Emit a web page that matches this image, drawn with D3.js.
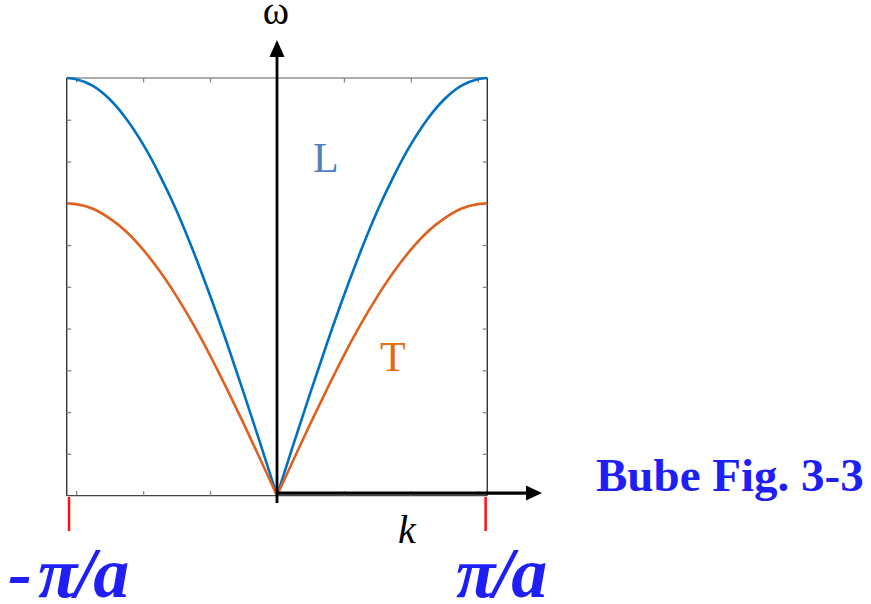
<!DOCTYPE html>
<html>
<head>
<meta charset="utf-8">
<script src="https://cdn.jsdelivr.net/npm/d3@7"></script>
<style>
  html, body { margin: 0; padding: 0; background: #fff; }
  svg { display: block; }
</style>
</head>
<body>
<svg id="chart" width="871" height="604"></svg>
<script>
// Wave vector samples across the first Brillouin zone (units of 1/a)
const kValues = [-3.14, -3, -2.75, -2.5, -2.25, -2, -1.75, -1.5, -1.25, -1, -0.75, -0.5, -0.25,
                 0, 0.25, 0.5, 0.75, 1, 1.25, 1.5, 1.75, 2, 2.25, 2.5, 2.75, 3, 3.14];
// Longitudinal branch frequency
const omegaL = [10.0, 9.97, 9.81, 9.49, 9.02, 8.41, 7.67, 6.82, 5.85, 4.79, 3.66, 2.47, 1.25,
                0, 1.25, 2.47, 3.66, 4.79, 5.85, 6.82, 7.67, 8.41, 9.02, 9.49, 9.81, 9.97, 10.0];
// Transverse branch frequency
const omegaT = [7.0, 6.98, 6.87, 6.64, 6.32, 5.89, 5.37, 4.77, 4.10, 3.36, 2.56, 1.73, 0.87,
                0, 0.87, 1.73, 2.56, 3.36, 4.10, 4.77, 5.37, 5.89, 6.32, 6.64, 6.87, 6.98, 7.0];
const xTicks = [-3, -2, -1, 0, 1, 2, 3];
const yTicks = [1, 2, 3, 4, 5, 6, 7, 8, 9];
const branchNames = ["L", "T"];
const zoneLabel = "\u03C0/a";
const captionText = "Bube Fig. 3-3";

const svg = d3.select("#chart");

const x = d3.scaleLinear().domain([-Math.PI, Math.PI]).range([66.7, 487.3]);
const y = d3.scaleLinear().domain([0, 10]).range([495.6, 78]);

const serif = "'Liberation Serif', 'Times New Roman', serif";

// Plot frame
const frame = svg.append("g").attr("fill", "none");
frame.append("line").attr("x1", x.range()[0]).attr("x2", x.range()[1])
  .attr("y1", y(10)).attr("y2", y(10)).attr("stroke", "#5a5a5a").attr("stroke-width", 1.2);
frame.append("line").attr("x1", x.range()[0]).attr("x2", x.range()[1])
  .attr("y1", y(0)).attr("y2", y(0)).attr("stroke", "#444").attr("stroke-width", 1.2);
frame.append("line").attr("x1", x.range()[0]).attr("x2", x.range()[0])
  .attr("y1", y(10)).attr("y2", y(0)).attr("stroke", "#333").attr("stroke-width", 1.4);
frame.append("line").attr("x1", x.range()[1]).attr("x2", x.range()[1])
  .attr("y1", y(10)).attr("y2", y(0)).attr("stroke", "#333").attr("stroke-width", 1.4);

// Inward ticks on the frame via d3 axes
const tickLen = 4.5;
function styleAxis(g) {
  g.select(".domain").remove();
  g.selectAll(".tick line").attr("stroke", "#888").attr("stroke-width", 1.3);
  g.selectAll(".tick text").remove();
}
svg.append("g").attr("transform", `translate(0,${y(0)})`)
  .call(d3.axisTop(x).tickValues(xTicks).tickSize(tickLen)).call(styleAxis);
svg.append("g").attr("transform", `translate(0,${y(10)})`)
  .call(d3.axisBottom(x).tickValues(xTicks.filter(d => d !== 0)).tickSize(tickLen)).call(styleAxis);
svg.append("g").attr("transform", `translate(${x.range()[0]},0)`)
  .call(d3.axisRight(y).tickValues(yTicks).tickSize(tickLen)).call(styleAxis);
svg.append("g").attr("transform", `translate(${x.range()[1]},0)`)
  .call(d3.axisLeft(y).tickValues(yTicks).tickSize(tickLen)).call(styleAxis);

// Dispersion branches, each half drawn separately so the cusp at k = 0 stays sharp
const line = d3.line().x(d => x(d.k)).y(d => y(d.w)).curve(d3.curveMonotoneX);
function halves(vals) {
  const pts = kValues.map((k, i) => ({ k, w: vals[i] }));
  return [pts.filter(p => p.k <= 0), pts.filter(p => p.k >= 0)];
}
const branches = [
  { vals: omegaL, color: "#0070C0" },
  { vals: omegaT, color: "#E0601E" }
];
branches.forEach(b => {
  halves(b.vals).forEach(seg => {
    svg.append("path").datum(seg).attr("d", line)
      .attr("fill", "none").attr("stroke", b.color).attr("stroke-width", 2.6);
  });
});

// Coordinate axes with arrowheads
const x0 = x(0);
const yAxisLine = y(0) - 2.5;
svg.append("line").attr("x1", x0).attr("x2", x0).attr("y1", 503).attr("y2", 52)
  .attr("stroke", "#000").attr("stroke-width", 2.8);
svg.append("path")
  .attr("d", `M${x0},40 L${x0 - 7.5},57 L${x0 + 7.5},57 Z`).attr("fill", "#000");
svg.append("line").attr("x1", x0).attr("x2", 530).attr("y1", yAxisLine).attr("y2", yAxisLine)
  .attr("stroke", "#000").attr("stroke-width", 3.2);
svg.append("path")
  .attr("d", `M542,${yAxisLine} L526,${yAxisLine - 7.5} L526,${yAxisLine + 7.5} Z`).attr("fill", "#000");

// Zone boundary markers
[-Math.PI, Math.PI].forEach((k, i) => {
  const px = x(k) + (i === 0 ? 2.3 : -1.7);
  svg.append("line").attr("x1", px).attr("x2", px).attr("y1", 497).attr("y2", 531)
    .attr("stroke", "#FF1010").attr("stroke-width", 2.5);
});

// Axis labels
svg.append("text").attr("x", x0 - 1).attr("y", 24).attr("text-anchor", "middle")
  .attr("font-family", serif).attr("font-size", 40).attr("fill", "#000").text("\u03C9");
svg.append("text").attr("x", 398).attr("y", 543)
  .attr("font-family", serif).attr("font-style", "italic").attr("font-size", 40)
  .attr("fill", "#000").text("k");

// Branch labels
svg.append("text").attr("x", 313).attr("y", 171.5)
  .attr("font-family", serif).attr("font-size", 42).attr("fill", "#4F81BD").text(branchNames[0]);
svg.append("text").attr("x", 380).attr("y", 370.5)
  .attr("font-family", serif).attr("font-size", 42).attr("fill", "#E46C0A").text(branchNames[1]);

// Zone boundary labels
const zoneStyle = sel => sel
  .attr("font-family", serif).attr("font-style", "italic").attr("font-weight", "bold")
  .attr("font-size", 72).attr("letter-spacing", -2).attr("fill", "#1F1FF5");
const leftLabel = svg.append("text").attr("x", 8).attr("y", 597).call(zoneStyle);
leftLabel.append("tspan").text("-");
leftLabel.append("tspan").attr("dx", 8).text(zoneLabel);
svg.append("text").attr("x", 456).attr("y", 597).call(zoneStyle).text(zoneLabel);

// Caption
svg.append("text").attr("x", 596).attr("y", 491)
  .attr("font-family", serif).attr("font-weight", "bold").attr("font-size", 47)
  .attr("fill", "#1F1FF5").text(captionText);
</script>
</body>
</html>
